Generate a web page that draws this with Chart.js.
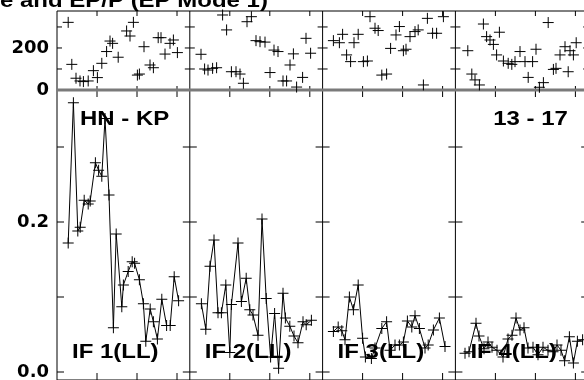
<!DOCTYPE html>
<html><head><meta charset="utf-8">
<script src="https://cdn.jsdelivr.net/npm/chart.js@4.4.1/dist/chart.umd.min.js"></script>
<style>html,body{margin:0;padding:0;background:#fff;overflow:hidden}</style>
</head><body>
<canvas id="c" width="584" height="380"></canvas>
<script>
// ---- text ----
const titleText = 'e and EP/P (EP Mode 1)';
const sourceLabel = 'HN - KP';
const timeLabel = '13 - 17';
const panelLabels = ['IF 1(LL)', 'IF 2(LL)', 'IF 3(LL)', 'IF 4(LL)'];

// ---- axes ----
const panelSpan = 3.32;          // x units covered by each panel
const xTicks = [0, 1, 2, 3];     // tick values inside each panel
const topTicks = [0, 100, 200, 300];
const topTickLabels = { 0: '0', 200: '200' };
const botTicks = [0, 0.1, 0.2, 0.3];
const botTickLabels = { 0: '0.0', 0.2: '0.2' };

// ---- top strip (+ markers) ----
const top1X = [0.28,0.37,0.475,0.575,0.66,0.78,0.91,1.01,1.12,1.24,1.325,1.39,1.53,1.74,1.825,1.91,2.01,2.06,2.175,2.325,2.41,2.53,2.60,2.70,2.825,2.91,3.01];
const top1Y = [322,122,56,43,40,43,92,59,127,183,233,222,156,281,257,322,71,76,206,119,106,249,249,171,222,238,178];
const top2X = [0.28,0.37,0.455,0.57,0.67,0.82,0.92,1.04,1.155,1.255,1.34,1.43,1.54,1.655,1.755,1.88,2.005,2.105,2.205,2.33,2.42,2.505,2.59,2.67,2.82,2.905,3.02];
const top2Y = [170,100,95,103,106,357,286,87,87,76,32,325,349,235,230,228,83,190,183,43,43,119,172,14,60,246,175];
const top3X = [0.27,0.42,0.50,0.60,0.70,0.785,0.89,1.02,1.12,1.185,1.31,1.39,1.48,1.60,1.70,1.835,1.92,2.02,2.085,2.185,2.31,2.39,2.52,2.62,2.75,2.85,3.02];
const top3Y = [235,225,265,167,135,225,265,135,138,349,294,283,71,76,198,262,302,187,194,254,278,286,24,341,270,270,349];
const top4X = [0.31,0.41,0.49,0.60,0.70,0.78,0.865,0.95,1.03,1.10,1.20,1.32,1.41,1.49,1.615,1.74,1.82,1.93,2.015,2.10,2.20,2.32,2.45,2.515,2.615,2.74,2.82,2.865,2.95,3.02];
const top4Y = [187,76,48,24,314,254,238,217,167,275,138,127,122,135,183,135,60,135,194,13,35,321,98,103,167,206,87,187,167,225];

// ---- lower panels (line + markers) ----
const bot1X = [0.28,0.41,0.52,0.58,0.68,0.78,0.83,0.96,1.04,1.12,1.20,1.30,1.41,1.48,1.62,1.66,1.78,1.88,1.94,2.06,2.16,2.22,2.33,2.41,2.51,2.62,2.74,2.83,2.93,3.04];
const bot1Y = [0.172,0.359,0.188,0.193,0.229,0.224,0.228,0.279,0.269,0.261,0.338,0.236,0.059,0.184,0.087,0.116,0.134,0.147,0.145,0.123,0.091,0.041,0.084,0.067,0.044,0.097,0.062,0.062,0.127,0.095];
const bot2X = [0.29,0.40,0.505,0.605,0.705,0.79,0.90,1.00,1.04,1.205,1.29,1.41,1.50,1.58,1.705,1.805,1.91,2.02,2.12,2.22,2.33,2.39,2.50,2.605,2.705,2.83,2.91,3.04];
const bot2Y = [0.091,0.057,0.141,0.176,0.079,0.079,0.116,0.026,0.090,0.172,0.094,0.125,0.083,0.076,0.049,0.204,0.098,0.020,0.078,0.005,0.105,0.072,0.061,0.048,0.039,0.067,0.063,0.069];
const bot3X = [0.27,0.39,0.48,0.56,0.67,0.77,0.89,1.00,1.07,1.22,1.31,1.48,1.60,1.685,1.81,1.92,2.02,2.12,2.23,2.31,2.42,2.56,2.64,2.77,2.92,3.06];
const bot3Y = [0.054,0.060,0.055,0.043,0.100,0.083,0.116,0.045,0.020,0.018,0.032,0.058,0.067,0.029,0.036,0.036,0.040,0.068,0.060,0.075,0.058,0.032,0.036,0.056,0.072,0.034];
const bot4X = [0.24,0.34,0.515,0.59,0.715,0.815,0.915,1.04,1.19,1.315,1.415,1.515,1.615,1.715,1.815,1.94,2.065,2.19,2.315,2.44,2.54,2.64,2.73,2.85,2.95,3.05,3.18];
const bot4Y = [0.025,0.027,0.065,0.048,0.031,0.040,0.033,0.029,0.020,0.044,0.049,0.072,0.056,0.059,0.032,0.033,0.023,0.033,0.029,0.027,0.036,0.029,0.015,0.047,0.012,0.041,0.043];

const topSeries = [[top1X, top1Y], [top2X, top2Y], [top3X, top3Y], [top4X, top4Y]];
const botSeries = [[bot1X, bot1Y], [bot2X, bot2Y], [bot3X, bot3Y], [bot4X, bot4Y]];

const pts = (xs, ys, p) => xs.map((v, i) => ({ x: p * panelSpan + v, y: ys[i] }));

const datasets = [];
topSeries.forEach(([xs, ys], p) => datasets.push({
  data: pts(xs, ys, p), yAxisID: 'yTop', showLine: false,
  pointStyle: 'cross', pointRadius: 5.5, pointBorderWidth: 1,
  borderColor: '#000', backgroundColor: '#000', clip: false
}));
botSeries.forEach(([xs, ys], p) => datasets.push({
  data: pts(xs, ys, p), yAxisID: 'yBot', showLine: true, borderWidth: 1,
  pointStyle: 'cross', pointRadius: 5.5, pointBorderWidth: 1,
  borderColor: '#000', backgroundColor: '#000', clip: false
}));

const SX = 1.23;
function drawStretched(ctx, text, px, py, align) {
  ctx.save();
  ctx.font = 'bold 19.5px "Liberation Sans"';
  ctx.textBaseline = 'alphabetic';
  ctx.textAlign = align;
  ctx.fillStyle = '#000';
  ctx.translate(px, py);
  ctx.scale(SX, 1);
  ctx.fillText(text, 0, 0);
  ctx.restore();
}

const framePlugin = {
  id: 'frames',
  beforeDatasetsDraw(chart) {
    const { ctx, chartArea: ca, scales } = chart;
    const x = scales.x, yTop = scales.yTop, yBot = scales.yBot;
    const lefts = [0, 1, 2, 3, 4].map(i => x.getPixelForValue(i * panelSpan));
    const top = ca.top, mid = yTop.getPixelForValue(0), bot = ca.bottom;

    drawStretched(ctx, titleText, 0, 6.5, 'left');
    drawStretched(ctx, sourceLabel, lefts[0] + 23, 125, 'left');
    drawStretched(ctx, timeLabel, lefts[3] + 112.5, 125, 'right');
    panelLabels.forEach((t, i) => drawStretched(ctx, t, lefts[i] + 15, 358, 'left'));

    ctx.save();
    ctx.strokeStyle = '#000';
    ctx.lineWidth = 1;
    ctx.beginPath();
    lefts.forEach(px => { ctx.moveTo(px, top); ctx.lineTo(px, bot); });
    ctx.moveTo(ca.left, top); ctx.lineTo(ca.right + 10, top);
    ctx.moveTo(ca.left, bot); ctx.lineTo(ca.right + 10, bot);
    for (let i = 0; i < 4; i++) {
      const l = lefts[i], r = lefts[i + 1];
      topTicks.forEach(v => {
        if (v === 0) return;
        const py = yTop.getPixelForValue(v);
        ctx.moveTo(l, py); ctx.lineTo(l + 5, py);
        ctx.moveTo(r, py); ctx.lineTo(r - 5, py);
      });
      botTicks.forEach(v => {
        const py = yBot.getPixelForValue(v);
        ctx.moveTo(l, py); ctx.lineTo(l + 7, py);
        ctx.moveTo(r, py); ctx.lineTo(r - 7, py);
      });
      xTicks.forEach(v => {
        if (v === 0) return;
        const px = x.getPixelForValue(i * panelSpan + v);
        ctx.moveTo(px, top); ctx.lineTo(px, top + 5);
        ctx.moveTo(px, mid - 4); ctx.lineTo(px, mid + 7);
        ctx.moveTo(px, bot); ctx.lineTo(px, bot - 7);
      });
    }
    ctx.stroke();
    ctx.strokeStyle = '#7a7a7a';
    ctx.lineWidth = 3;
    ctx.beginPath();
    ctx.moveTo(ca.left, mid); ctx.lineTo(ca.right + 10, mid);
    ctx.stroke();
    ctx.restore();
  }
};

const tickFont = { family: 'DejaVu Sans', size: 18, weight: 'bold' };
const fitY = s => { s.width = 57; s.paddingTop = 0; s.paddingBottom = 0; };

new Chart(document.getElementById('c'), {
  type: 'scatter',
  data: { datasets },
  options: {
    responsive: false,
    animation: false,
    devicePixelRatio: 1,
    layout: { autoPadding: false, padding: { left: 0, right: 0, top: 11, bottom: 0 } },
    plugins: { legend: { display: false }, tooltip: { enabled: false }, title: { display: false } },
    scales: {
      x: { type: 'linear', display: false, min: 0, max: 527 / 40 },
      yBot: {
        type: 'linear', position: 'left', stack: 'v', stackWeight: 290,
        min: -8 / 750, max: 0.376,
        afterBuildTicks: s => { s.ticks = botTicks.map(v => ({ value: v })); },
        afterFit: fitY,
        grid: { display: false }, border: { display: false },
        ticks: { autoSkip: false, padding: 0, color: '#000', font: tickFont,
          callback: v => botTickLabels[Math.round(v * 10) / 10] || '' }
      },
      yTop: {
        type: 'linear', position: 'left', stack: 'v', stackWeight: 79,
        min: 0, max: 376,
        afterBuildTicks: s => { s.ticks = topTicks.map(v => ({ value: v })); },
        afterFit: fitY,
        grid: { display: false }, border: { display: false },
        ticks: { autoSkip: false, padding: 0, color: '#000', font: tickFont,
          callback: v => topTickLabels[v] || '' }
      }
    }
  },
  plugins: [framePlugin]
});
</script>
</body></html>
